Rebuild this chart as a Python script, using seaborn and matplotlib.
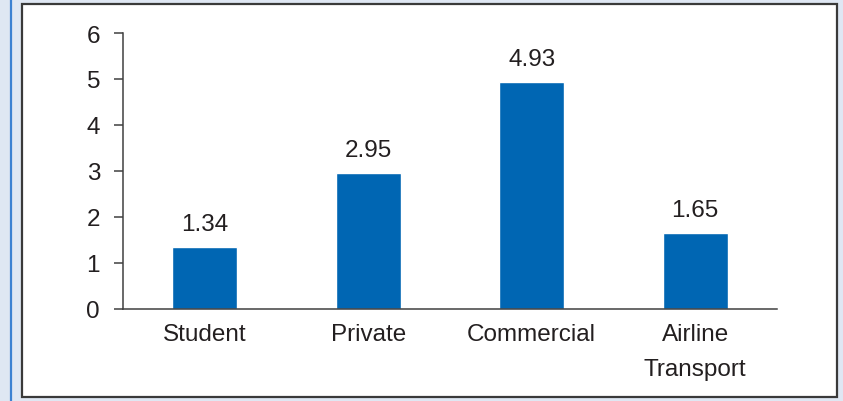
import matplotlib
matplotlib.use("Agg")
import matplotlib.pyplot as plt
import seaborn as sns
import pandas as pd
from matplotlib.patches import Rectangle
from matplotlib.lines import Line2D

categories = ["Student", "Private", "Commercial", "Airline\nTransport"]
values = [1.34, 2.95, 4.93, 1.65]
y_ticks = [0, 1, 2, 3, 4, 5, 6]

bar_color = "#0066b3"
text_color = "#231f20"
spine_color = "#404040"
font_size = 17.5

sns.set_theme(style="white")
plt.rcParams["font.family"] = ["Liberation Sans", "DejaVu Sans"]

W, H = 843, 402
fig = plt.figure(figsize=(W / 100, H / 100), dpi=100)
fig.patch.set_facecolor("#dfe7f3")

# panel backdrop: accent stripe and framed white card
fig.add_artist(Line2D([10.5 / W, 10.5 / W], [0, 1], color="#3d82d2", lw=1.6,
                      transform=fig.transFigure))
fig.add_artist(Rectangle((22 / W, 4 / H), (837 - 22) / W, (398 - 5) / H,
                         transform=fig.transFigure, facecolor="white",
                         edgecolor="#3a3a3a", lw=1.6, zorder=0))

ax = fig.add_axes([123 / W, (H - 310) / H, (777 - 123) / W, (310 - 34) / H])
ax.set_facecolor("none")

df = pd.DataFrame({"category": categories, "value": values})
sns.barplot(data=df, x="category", y="value", color=bar_color, saturation=1,
            width=0.4, ax=ax)

ax.set_xlim(-0.5, 3.5)
ax.set_ylim(0, 6)
ax.set_yticks(y_ticks)
ax.set_xlabel("")
ax.set_ylabel("")

for i, v in enumerate(values):
    ax.annotate(f"{v:.2f}", (i, v), xytext=(0, 9), textcoords="offset points",
                ha="center", va="bottom", fontsize=font_size, color=text_color)

for side in ["top", "right"]:
    ax.spines[side].set_visible(False)
for side in ["left", "bottom"]:
    ax.spines[side].set_color(spine_color)
    ax.spines[side].set_linewidth(1.1)

ax.tick_params(axis="y", which="major", length=6.5, width=1.1, color=spine_color,
               direction="out", left=True, labelsize=font_size,
               labelcolor=text_color, pad=10)
ax.tick_params(axis="x", length=0, labelsize=font_size, labelcolor=text_color, pad=10)
for lbl in ax.get_xticklabels():
    lbl.set_linespacing(1.75)

fig.savefig("out.png", dpi=100, facecolor=fig.get_facecolor())
